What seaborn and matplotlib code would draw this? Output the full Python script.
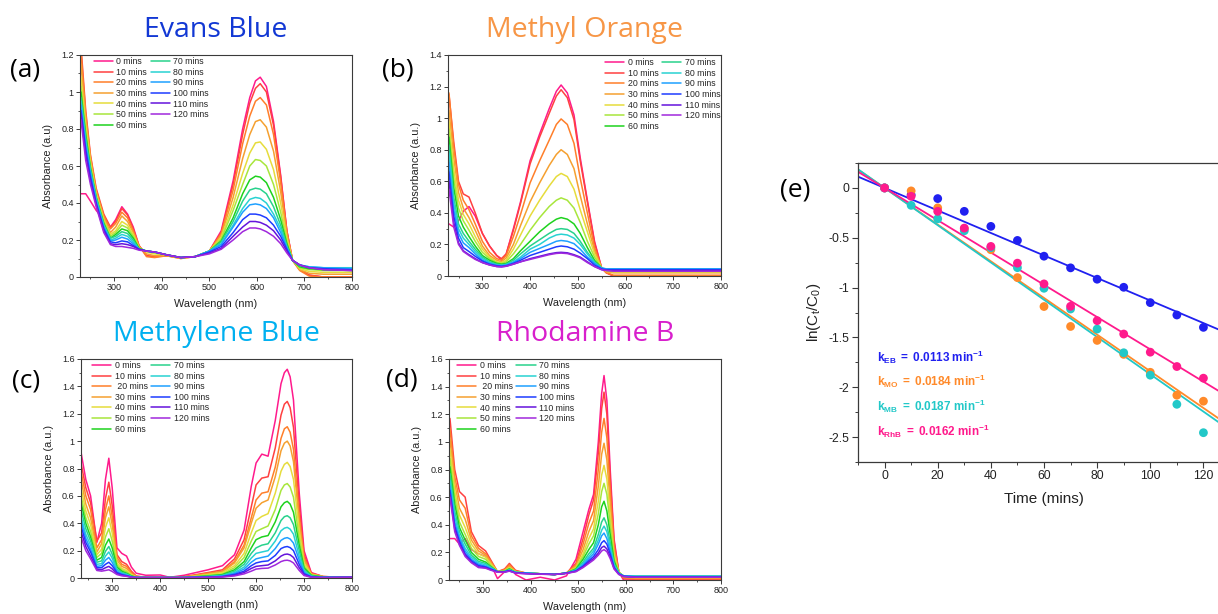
import numpy as np
import matplotlib
matplotlib.use("Agg")
import matplotlib.pyplot as plt
import seaborn as sns
from matplotlib.ticker import MultipleLocator, FuncFormatter

# ---------------- data ----------------
time_labels = ["0 mins", "10 mins", "20 mins", "30 mins", "40 mins", "50 mins", "60 mins",
               "70 mins", "80 mins", "90 mins", "100 mins", "110 mins", "120 mins"]
time_labels_cd = ["0 mins", "10 mins", " 20 mins", "30 mins", "40 mins", "50 mins", "60 mins",
                  "70 mins", "80 mins", "90 mins", "100 mins", "110 mins", "120 mins"]
line_colors = ["#ff1a8c", "#ff4040", "#ff7f2a", "#f5a030", "#e6dc3c", "#a8e63c", "#1ed21e",
               "#28d28c", "#28d2d2", "#1ea0ff", "#1e3cff", "#6414dc", "#a028dc"]

# Evans Blue
eb_wl = [230, 240, 250, 262, 278, 292, 303, 316, 328, 340, 352, 368, 385, 410, 440, 470,
         500, 525, 550, 570, 585, 597, 607, 620, 635, 650, 663, 675, 690, 710, 740, 800]
eb_abs = [
    [0.45, 0.45, 0.41, 0.36, 0.31, 0.27, 0.31, 0.38, 0.34, 0.27, 0.17, 0.115, 0.11, 0.115, 0.105, 0.11, 0.14, 0.25, 0.52, 0.8, 0.97, 1.06, 1.08, 1.03, 0.84, 0.55, 0.25, 0.09, 0.04, 0.01, 0.0, 0.0],
    [1.25, 0.9, 0.66, 0.48, 0.34, 0.27, 0.3, 0.37, 0.335, 0.26, 0.17, 0.115, 0.11, 0.115, 0.105, 0.11, 0.14, 0.24, 0.5, 0.77, 0.94, 1.02, 1.045, 1.0, 0.82, 0.54, 0.25, 0.09, 0.04, 0.01, 0.0, 0.0],
    [1.22, 0.88, 0.65, 0.47, 0.33, 0.26, 0.29, 0.35, 0.32, 0.25, 0.17, 0.11, 0.105, 0.115, 0.1, 0.11, 0.14, 0.235, 0.47, 0.72, 0.87, 0.95, 0.97, 0.93, 0.77, 0.51, 0.24, 0.09, 0.035, 0.005, 0.0, 0.0],
    [1.15, 0.86, 0.64, 0.46, 0.32, 0.24, 0.27, 0.33, 0.3, 0.24, 0.165, 0.125, 0.115, 0.115, 0.1, 0.11, 0.14, 0.225, 0.43, 0.64, 0.77, 0.84, 0.85, 0.81, 0.68, 0.46, 0.23, 0.09, 0.04, 0.02, 0.015, 0.015],
    [1.08, 0.82, 0.62, 0.45, 0.31, 0.23, 0.25, 0.3, 0.28, 0.23, 0.16, 0.135, 0.125, 0.12, 0.105, 0.11, 0.14, 0.215, 0.39, 0.56, 0.67, 0.725, 0.73, 0.69, 0.58, 0.4, 0.21, 0.09, 0.045, 0.03, 0.025, 0.025],
    [1.03, 0.79, 0.6, 0.44, 0.3, 0.22, 0.24, 0.28, 0.265, 0.22, 0.155, 0.14, 0.13, 0.12, 0.105, 0.11, 0.14, 0.205, 0.36, 0.5, 0.6, 0.635, 0.63, 0.6, 0.5, 0.35, 0.19, 0.09, 0.05, 0.04, 0.035, 0.035],
    [1.0, 0.77, 0.59, 0.43, 0.29, 0.21, 0.23, 0.26, 0.25, 0.21, 0.155, 0.14, 0.135, 0.12, 0.105, 0.11, 0.14, 0.195, 0.32, 0.45, 0.525, 0.545, 0.54, 0.51, 0.43, 0.31, 0.18, 0.09, 0.055, 0.045, 0.04, 0.04],
    [0.97, 0.75, 0.58, 0.43, 0.28, 0.21, 0.22, 0.245, 0.235, 0.2, 0.15, 0.14, 0.135, 0.12, 0.105, 0.11, 0.14, 0.19, 0.3, 0.41, 0.47, 0.48, 0.475, 0.45, 0.38, 0.28, 0.17, 0.09, 0.06, 0.05, 0.05, 0.05],
    [0.95, 0.73, 0.57, 0.42, 0.28, 0.2, 0.21, 0.23, 0.22, 0.19, 0.15, 0.14, 0.135, 0.12, 0.105, 0.11, 0.14, 0.18, 0.28, 0.37, 0.42, 0.43, 0.425, 0.4, 0.34, 0.26, 0.16, 0.09, 0.065, 0.055, 0.05, 0.05],
    [0.93, 0.71, 0.56, 0.41, 0.27, 0.195, 0.2, 0.215, 0.205, 0.18, 0.15, 0.14, 0.135, 0.12, 0.105, 0.11, 0.14, 0.175, 0.27, 0.35, 0.39, 0.395, 0.39, 0.37, 0.32, 0.24, 0.16, 0.09, 0.065, 0.055, 0.05, 0.045],
    [0.9, 0.69, 0.54, 0.4, 0.26, 0.19, 0.185, 0.195, 0.19, 0.17, 0.15, 0.14, 0.135, 0.12, 0.105, 0.11, 0.135, 0.165, 0.24, 0.31, 0.34, 0.34, 0.335, 0.32, 0.28, 0.22, 0.15, 0.09, 0.065, 0.05, 0.045, 0.04],
    [0.88, 0.66, 0.52, 0.39, 0.25, 0.18, 0.175, 0.18, 0.175, 0.165, 0.15, 0.14, 0.135, 0.12, 0.105, 0.11, 0.13, 0.155, 0.22, 0.27, 0.3, 0.3, 0.295, 0.28, 0.25, 0.2, 0.14, 0.09, 0.065, 0.05, 0.04, 0.035],
    [0.85, 0.63, 0.5, 0.38, 0.24, 0.175, 0.165, 0.165, 0.16, 0.155, 0.145, 0.14, 0.135, 0.12, 0.105, 0.11, 0.125, 0.15, 0.2, 0.245, 0.265, 0.265, 0.26, 0.245, 0.22, 0.18, 0.13, 0.09, 0.065, 0.05, 0.04, 0.035],
]

# Methyl Orange
mo_wl = [230, 240, 250, 260, 272, 285, 300, 315, 330, 340, 350, 365, 380, 400, 420, 440, 455,
         465, 478, 492, 505, 520, 535, 550, 560, 575, 600, 700, 800]
mo_abs = [
    [0.33, 0.31, 0.35, 0.41, 0.44, 0.38, 0.27, 0.19, 0.13, 0.1, 0.14, 0.3, 0.47, 0.73, 0.9, 1.06, 1.17, 1.21, 1.16, 1.02, 0.75, 0.48, 0.22, 0.05, 0.02, 0.0, 0.0, 0.0, 0.0],
    [1.15, 0.85, 0.6, 0.52, 0.5, 0.4, 0.27, 0.19, 0.13, 0.11, 0.14, 0.29, 0.46, 0.71, 0.88, 1.03, 1.14, 1.18, 1.13, 0.99, 0.73, 0.47, 0.21, 0.05, 0.02, 0.0, 0.0, 0.0, 0.0],
    [1.16, 0.82, 0.58, 0.48, 0.42, 0.33, 0.22, 0.15, 0.11, 0.1, 0.13, 0.25, 0.39, 0.59, 0.73, 0.86, 0.96, 0.995, 0.96, 0.84, 0.62, 0.4, 0.18, 0.05, 0.02, 0.005, 0.005, 0.005, 0.005],
    [1.05, 0.75, 0.53, 0.43, 0.37, 0.29, 0.19, 0.13, 0.1, 0.09, 0.115, 0.2, 0.32, 0.47, 0.59, 0.7, 0.77, 0.8, 0.77, 0.68, 0.51, 0.33, 0.16, 0.05, 0.025, 0.02, 0.02, 0.02, 0.02],
    [0.98, 0.68, 0.48, 0.39, 0.33, 0.25, 0.17, 0.12, 0.09, 0.085, 0.1, 0.17, 0.26, 0.38, 0.48, 0.57, 0.63, 0.65, 0.63, 0.55, 0.42, 0.28, 0.14, 0.05, 0.03, 0.025, 0.025, 0.025, 0.025],
    [0.93, 0.62, 0.43, 0.35, 0.29, 0.22, 0.15, 0.11, 0.085, 0.08, 0.09, 0.14, 0.2, 0.29, 0.37, 0.44, 0.48, 0.495, 0.48, 0.43, 0.34, 0.22, 0.12, 0.05, 0.035, 0.03, 0.03, 0.03, 0.03],
    [0.88, 0.56, 0.38, 0.31, 0.25, 0.19, 0.13, 0.1, 0.08, 0.075, 0.08, 0.11, 0.16, 0.22, 0.28, 0.33, 0.36, 0.37, 0.36, 0.33, 0.27, 0.18, 0.1, 0.05, 0.04, 0.035, 0.035, 0.035, 0.035],
    [0.83, 0.5, 0.33, 0.27, 0.22, 0.17, 0.12, 0.09, 0.075, 0.07, 0.075, 0.1, 0.14, 0.19, 0.23, 0.27, 0.295, 0.3, 0.295, 0.27, 0.22, 0.15, 0.09, 0.05, 0.04, 0.04, 0.04, 0.04, 0.04],
    [0.78, 0.46, 0.3, 0.24, 0.2, 0.155, 0.11, 0.085, 0.07, 0.068, 0.072, 0.09, 0.12, 0.17, 0.2, 0.24, 0.26, 0.265, 0.26, 0.24, 0.2, 0.14, 0.085, 0.05, 0.045, 0.045, 0.045, 0.045, 0.045],
    [0.72, 0.42, 0.27, 0.21, 0.18, 0.14, 0.1, 0.08, 0.068, 0.065, 0.07, 0.085, 0.11, 0.15, 0.175, 0.2, 0.22, 0.225, 0.22, 0.205, 0.17, 0.12, 0.08, 0.05, 0.045, 0.045, 0.045, 0.045, 0.045],
    [0.66, 0.38, 0.24, 0.18, 0.155, 0.125, 0.095, 0.075, 0.065, 0.062, 0.065, 0.08, 0.1, 0.13, 0.15, 0.17, 0.185, 0.19, 0.185, 0.17, 0.145, 0.11, 0.07, 0.045, 0.04, 0.04, 0.04, 0.04, 0.04],
    [0.6, 0.34, 0.21, 0.16, 0.135, 0.11, 0.085, 0.07, 0.06, 0.058, 0.062, 0.075, 0.09, 0.11, 0.125, 0.14, 0.148, 0.15, 0.147, 0.135, 0.12, 0.09, 0.06, 0.04, 0.035, 0.035, 0.035, 0.035, 0.035],
    [0.55, 0.31, 0.2, 0.155, 0.13, 0.105, 0.085, 0.07, 0.06, 0.058, 0.062, 0.075, 0.09, 0.105, 0.12, 0.135, 0.143, 0.145, 0.142, 0.13, 0.115, 0.085, 0.06, 0.04, 0.035, 0.03, 0.03, 0.03, 0.03],
]

# Methylene Blue
mb_wl = [235, 245, 255, 268, 278, 286, 293, 300, 310, 320, 330, 340, 350, 370, 400, 420, 450,
         500, 530, 555, 575, 590, 600, 612, 625, 640, 652, 659, 665, 671, 678, 690, 700, 715, 740, 800]
mb_abs = [
    [0.92, 0.72, 0.6, 0.26, 0.4, 0.72, 0.875, 0.66, 0.22, 0.18, 0.16, 0.08, 0.035, 0.02, 0.022, 0.005, 0.02, 0.06, 0.09, 0.17, 0.35, 0.67, 0.84, 0.905, 0.89, 1.15, 1.42, 1.5, 1.525, 1.47, 1.3, 0.62, 0.2, 0.04, 0.01, 0.005],
    [0.84, 0.66, 0.55, 0.27, 0.33, 0.58, 0.7, 0.53, 0.17, 0.12, 0.1, 0.05, 0.015, 0.005, 0.005, 0.003, 0.01, 0.04, 0.06, 0.14, 0.28, 0.52, 0.68, 0.73, 0.74, 0.95, 1.19, 1.27, 1.29, 1.245, 1.1, 0.53, 0.17, 0.035, 0.01, 0.005],
    [0.78, 0.6, 0.5, 0.22, 0.28, 0.5, 0.6, 0.45, 0.15, 0.1, 0.085, 0.04, 0.012, 0.004, 0.004, 0.003, 0.008, 0.035, 0.05, 0.12, 0.24, 0.44, 0.57, 0.62, 0.63, 0.81, 1.02, 1.09, 1.105, 1.065, 0.94, 0.45, 0.15, 0.03, 0.01, 0.005],
    [0.72, 0.54, 0.44, 0.19, 0.25, 0.44, 0.52, 0.39, 0.13, 0.085, 0.07, 0.03, 0.01, 0.003, 0.003, 0.003, 0.006, 0.03, 0.045, 0.11, 0.22, 0.4, 0.51, 0.55, 0.57, 0.74, 0.93, 0.985, 1.0, 0.965, 0.85, 0.41, 0.13, 0.03, 0.01, 0.005],
    [0.66, 0.49, 0.39, 0.17, 0.21, 0.37, 0.44, 0.33, 0.11, 0.07, 0.055, 0.025, 0.008, 0.003, 0.003, 0.003, 0.005, 0.025, 0.04, 0.09, 0.18, 0.33, 0.42, 0.45, 0.47, 0.62, 0.78, 0.83, 0.845, 0.815, 0.72, 0.35, 0.11, 0.025, 0.01, 0.005],
    [0.6, 0.44, 0.34, 0.15, 0.18, 0.3, 0.36, 0.27, 0.095, 0.06, 0.045, 0.02, 0.006, 0.003, 0.003, 0.003, 0.004, 0.02, 0.03, 0.075, 0.15, 0.27, 0.34, 0.36, 0.38, 0.5, 0.64, 0.68, 0.69, 0.665, 0.59, 0.29, 0.09, 0.02, 0.008, 0.005],
    [0.55, 0.4, 0.3, 0.13, 0.15, 0.24, 0.285, 0.22, 0.08, 0.05, 0.035, 0.015, 0.005, 0.003, 0.003, 0.003, 0.004, 0.015, 0.025, 0.06, 0.12, 0.22, 0.28, 0.3, 0.31, 0.41, 0.52, 0.55, 0.56, 0.54, 0.48, 0.24, 0.075, 0.02, 0.008, 0.005],
    [0.5, 0.36, 0.27, 0.115, 0.125, 0.195, 0.23, 0.175, 0.065, 0.04, 0.03, 0.012, 0.004, 0.003, 0.003, 0.003, 0.003, 0.012, 0.02, 0.05, 0.1, 0.18, 0.22, 0.24, 0.25, 0.33, 0.42, 0.448, 0.455, 0.44, 0.39, 0.2, 0.06, 0.015, 0.006, 0.005],
    [0.45, 0.32, 0.24, 0.1, 0.105, 0.16, 0.19, 0.145, 0.055, 0.035, 0.025, 0.01, 0.004, 0.003, 0.003, 0.003, 0.003, 0.01, 0.017, 0.04, 0.08, 0.145, 0.18, 0.19, 0.2, 0.27, 0.345, 0.364, 0.37, 0.357, 0.32, 0.16, 0.05, 0.012, 0.005, 0.005],
    [0.42, 0.29, 0.21, 0.085, 0.09, 0.13, 0.15, 0.115, 0.045, 0.03, 0.02, 0.008, 0.003, 0.003, 0.003, 0.003, 0.003, 0.008, 0.014, 0.033, 0.065, 0.115, 0.14, 0.15, 0.16, 0.215, 0.275, 0.29, 0.295, 0.285, 0.255, 0.13, 0.04, 0.01, 0.005, 0.005],
    [0.38, 0.26, 0.19, 0.075, 0.075, 0.1, 0.115, 0.09, 0.04, 0.025, 0.017, 0.007, 0.003, 0.003, 0.003, 0.003, 0.003, 0.006, 0.011, 0.026, 0.05, 0.09, 0.11, 0.12, 0.125, 0.165, 0.215, 0.226, 0.23, 0.222, 0.2, 0.1, 0.032, 0.008, 0.004, 0.005],
    [0.34, 0.23, 0.16, 0.065, 0.06, 0.075, 0.085, 0.067, 0.032, 0.02, 0.014, 0.006, 0.003, 0.003, 0.003, 0.003, 0.003, 0.005, 0.009, 0.02, 0.04, 0.07, 0.085, 0.09, 0.095, 0.125, 0.16, 0.172, 0.175, 0.169, 0.15, 0.075, 0.025, 0.006, 0.003, 0.005],
    [0.3, 0.2, 0.14, 0.055, 0.05, 0.055, 0.06, 0.048, 0.025, 0.016, 0.012, 0.005, 0.003, 0.003, 0.003, 0.003, 0.003, 0.004, 0.007, 0.015, 0.03, 0.05, 0.065, 0.07, 0.072, 0.095, 0.12, 0.128, 0.13, 0.125, 0.11, 0.055, 0.018, 0.005, 0.003, 0.005],
]

# Rhodamine B
rhb_wl = [230, 240, 250, 262, 275, 290, 305, 315, 330, 345, 355, 368, 390, 420, 450, 475, 495,
          510, 522, 532, 542, 549, 554, 560, 567, 575, 585, 595, 620, 800]
rhb_abs = [
    [0.3, 0.3, 0.26, 0.3, 0.22, 0.19, 0.17, 0.12, 0.01, 0.06, 0.11, 0.04, 0.0, 0.02, 0.0, 0.03, 0.15, 0.35, 0.51, 0.62, 1.0, 1.35, 1.48, 1.3, 0.8, 0.3, 0.06, 0.0, 0.0, 0.0],
    [1.17, 0.8, 0.64, 0.6, 0.35, 0.25, 0.21, 0.15, 0.06, 0.08, 0.12, 0.07, 0.05, 0.045, 0.04, 0.05, 0.12, 0.3, 0.47, 0.58, 0.92, 1.24, 1.36, 1.2, 0.74, 0.28, 0.06, 0.01, 0.005, 0.005],
    [1.1, 0.75, 0.58, 0.52, 0.32, 0.23, 0.19, 0.14, 0.06, 0.075, 0.11, 0.065, 0.05, 0.045, 0.04, 0.05, 0.11, 0.26, 0.41, 0.5, 0.8, 1.07, 1.17, 1.03, 0.64, 0.24, 0.06, 0.015, 0.01, 0.01],
    [1.02, 0.7, 0.52, 0.44, 0.29, 0.21, 0.18, 0.13, 0.06, 0.07, 0.1, 0.06, 0.05, 0.045, 0.04, 0.05, 0.1, 0.22, 0.35, 0.43, 0.68, 0.91, 0.99, 0.87, 0.55, 0.21, 0.06, 0.02, 0.015, 0.015],
    [0.95, 0.65, 0.47, 0.38, 0.26, 0.19, 0.165, 0.12, 0.06, 0.068, 0.09, 0.06, 0.05, 0.045, 0.04, 0.05, 0.09, 0.19, 0.3, 0.37, 0.57, 0.76, 0.83, 0.73, 0.47, 0.18, 0.06, 0.025, 0.02, 0.02],
    [0.88, 0.6, 0.42, 0.33, 0.23, 0.17, 0.15, 0.11, 0.06, 0.065, 0.085, 0.058, 0.05, 0.045, 0.04, 0.05, 0.085, 0.17, 0.26, 0.32, 0.48, 0.64, 0.7, 0.62, 0.4, 0.16, 0.055, 0.03, 0.025, 0.025],
    [0.82, 0.55, 0.38, 0.29, 0.2, 0.15, 0.13, 0.1, 0.06, 0.062, 0.08, 0.055, 0.05, 0.045, 0.04, 0.05, 0.08, 0.15, 0.22, 0.27, 0.4, 0.53, 0.57, 0.5, 0.33, 0.14, 0.05, 0.03, 0.025, 0.025],
    [0.77, 0.5, 0.35, 0.26, 0.18, 0.135, 0.12, 0.095, 0.06, 0.06, 0.075, 0.055, 0.05, 0.045, 0.04, 0.05, 0.075, 0.13, 0.19, 0.23, 0.33, 0.42, 0.45, 0.4, 0.27, 0.12, 0.05, 0.03, 0.028, 0.028],
    [0.72, 0.46, 0.32, 0.23, 0.165, 0.125, 0.11, 0.09, 0.06, 0.06, 0.072, 0.055, 0.05, 0.045, 0.04, 0.05, 0.07, 0.12, 0.17, 0.21, 0.29, 0.36, 0.39, 0.35, 0.24, 0.11, 0.05, 0.03, 0.028, 0.028],
    [0.68, 0.42, 0.3, 0.21, 0.15, 0.115, 0.1, 0.085, 0.06, 0.06, 0.07, 0.055, 0.05, 0.045, 0.04, 0.05, 0.068, 0.11, 0.155, 0.19, 0.26, 0.32, 0.34, 0.3, 0.21, 0.1, 0.045, 0.03, 0.025, 0.025],
    [0.65, 0.39, 0.28, 0.19, 0.14, 0.105, 0.095, 0.08, 0.06, 0.06, 0.068, 0.052, 0.048, 0.043, 0.04, 0.05, 0.065, 0.1, 0.14, 0.17, 0.22, 0.27, 0.285, 0.26, 0.19, 0.09, 0.045, 0.028, 0.022, 0.022],
    [0.62, 0.37, 0.26, 0.18, 0.13, 0.095, 0.09, 0.075, 0.058, 0.058, 0.066, 0.05, 0.046, 0.042, 0.04, 0.048, 0.063, 0.095, 0.13, 0.155, 0.195, 0.235, 0.245, 0.225, 0.17, 0.085, 0.042, 0.025, 0.02, 0.02],
    [0.6, 0.35, 0.25, 0.17, 0.125, 0.09, 0.085, 0.072, 0.056, 0.056, 0.064, 0.05, 0.045, 0.042, 0.04, 0.048, 0.06, 0.09, 0.12, 0.145, 0.18, 0.21, 0.22, 0.205, 0.155, 0.08, 0.04, 0.025, 0.02, 0.02],
]

# Kinetics panel
time_min = [0, 10, 20, 30, 40, 50, 60, 70, 80, 90, 100, 110, 120]
ln_eb = [0, -0.07, -0.107, -0.235, -0.386, -0.527, -0.685, -0.802, -0.916, -0.997, -1.151, -1.275, -1.399]
ln_mo = [0, -0.03, -0.2, -0.41, -0.62, -0.9, -1.19, -1.39, -1.53, -1.67, -1.85, -2.08, -2.14]
ln_mb = [0, -0.175, -0.31, -0.43, -0.6, -0.8, -1.007, -1.215, -1.416, -1.654, -1.879, -2.171, -2.456]
ln_rhb = [0, -0.084, -0.235, -0.403, -0.587, -0.755, -0.963, -1.188, -1.332, -1.466, -1.648, -1.792, -1.909]
dye_keys = ["EB", "MO", "MB", "RhB"]
k_values = [0.0113, 0.0184, 0.0187, 0.0162]
dye_colors = ["#2020f0", "#ff8a2a", "#22c8c8", "#ff1a8c"]

titles = ["Evans Blue", "Methyl Orange", "Methylene Blue", "Rhodamine B"]
title_colors = ["#1238d4", "#f79646", "#00b0f0", "#d81fcc"]

for wl, rows in [(eb_wl, eb_abs), (mo_wl, mo_abs), (mb_wl, mb_abs), (rhb_wl, rhb_abs)]:
    assert all(len(r) == len(wl) for r in rows), [len(r) for r in rows]

# ---------------- style ----------------
sns.set_theme(style="ticks")
plt.rcParams["font.family"] = ["Liberation Sans", "DejaVu Sans"]
plt.rcParams["mathtext.fontset"] = "custom"
plt.rcParams["mathtext.rm"] = "Liberation Sans"
plt.rcParams["mathtext.it"] = "Liberation Sans:italic"
plt.rcParams["mathtext.bf"] = "Liberation Sans:bold"
plt.rcParams["mathtext.default"] = "regular"
plt.rcParams["axes.unicode_minus"] = False

W, H = 1218, 614
fig = plt.figure(figsize=(W / 100, H / 100), dpi=100)
fig.patch.set_facecolor("white")


def px(l, t, r, b):
    return [l / W, 1 - b / H, (r - l) / W, (b - t) / H]


fmt = FuncFormatter(lambda v, p: f"{v:g}")
SPINE = "#3a3a3a"


def style_axes(ax, ymajor, ysize):
    for s in ax.spines.values():
        s.set_color(SPINE)
        s.set_linewidth(0.8)
    ax.xaxis.set_major_locator(MultipleLocator(100))
    ax.xaxis.set_minor_locator(MultipleLocator(50))
    ax.yaxis.set_major_locator(MultipleLocator(ymajor))
    ax.yaxis.set_minor_locator(MultipleLocator(ymajor / 2))
    ax.xaxis.set_major_formatter(fmt)
    ax.yaxis.set_major_formatter(fmt)
    ax.tick_params(which="major", direction="out", length=3, width=0.7, color=SPINE,
                   labelsize=ysize, pad=1.5, labelcolor="#222222")
    ax.tick_params(which="minor", direction="out", length=1.7, width=0.6, color=SPINE)
    ax.tick_params(top=False, right=False, which="both")


def draw_spectra(rect, wl, rows, labels, xmin, ymax, ylab, leg_anchor, title, tcolor, panel, plabel_xy):
    ax = fig.add_axes(px(*rect))
    ax.set_facecolor("white")
    for vals, lab, col in zip(rows, labels, line_colors):
        sns.lineplot(x=wl, y=vals, color=col, lw=1.1, label=lab, ax=ax, sort=False, estimator=None)
    ax.set_xlim(xmin, 800)
    ax.set_ylim(0, ymax)
    style_axes(ax, 0.2, 6.5)
    ax.set_xlabel("Wavelength (nm)", fontsize=7.8, labelpad=5, color="#222222")
    ax.set_ylabel(ylab, fontsize=7.8, labelpad=6, color="#222222")
    ax.legend(loc="upper left", bbox_to_anchor=leg_anchor, ncol=2, frameon=False, fontsize=6.3,
              handlelength=2.2, handletextpad=0.4, columnspacing=0.4, labelspacing=0.18,
              borderpad=0, borderaxespad=0)
    cx = (rect[0] + rect[2]) / 2 / W
    fig.text(cx, 1 - (rect[1] - 18) / H, title, color=tcolor, fontsize=20.5, ha="center",
             va="baseline", family=["Open Sans", "DejaVu Sans"])
    fig.text(plabel_xy[0] / W, 1 - plabel_xy[1] / H, panel, fontsize=19, ha="left", va="center",
             family=["Open Sans", "DejaVu Sans"], color="black")
    return ax


draw_spectra((80, 55, 352, 277), eb_wl, eb_abs, time_labels, 228, 1.2, "Absorbance (a.u)",
             (0.05, 0.99), titles[0], title_colors[0], "(a)", (10, 70))
draw_spectra((448, 55, 721, 276), mo_wl, mo_abs, time_labels, 228, 1.4, "Absorbance (a.u.)",
             (0.575, 0.985), titles[1], title_colors[1], "(b)", (382, 70))
draw_spectra((81, 359, 352, 578), mb_wl, mb_abs, time_labels_cd, 235, 1.6, "Absorbance (a.u.)",
             (0.04, 0.99), titles[2], title_colors[2], "(c)", (12, 381))
draw_spectra((449, 359, 721, 580), rhb_wl, rhb_abs, time_labels_cd, 228, 1.6, "Absorbance (a.u.)",
             (0.03, 0.99), titles[3], title_colors[3], "(d)", (386, 380))

# ---------------- kinetics panel (e) ----------------
axe = fig.add_axes(px(858, 163, 1230, 462))
axe.set_facecolor("white")
axe.set_xlim(-10, 130)
axe.set_ylim(-2.75, 0.25)
t_line = np.array(axe.get_xlim())
for k, col in zip(k_values, dye_colors):
    sns.lineplot(x=t_line, y=-k * t_line, color=col, lw=1.3, ax=axe, zorder=2)
for vals, col in zip([ln_eb, ln_mo, ln_mb, ln_rhb], dye_colors):
    sns.scatterplot(x=time_min, y=vals, color=col, s=40, edgecolor="none", ax=axe, zorder=3)
axe.set_xlim(-10, 130)
axe.set_ylim(-2.75, 0.25)
for s in axe.spines.values():
    s.set_color(SPINE)
    s.set_linewidth(0.9)
axe.xaxis.set_major_locator(MultipleLocator(20))
axe.xaxis.set_minor_locator(MultipleLocator(10))
axe.yaxis.set_major_locator(MultipleLocator(0.5))
axe.yaxis.set_minor_locator(MultipleLocator(0.25))
axe.xaxis.set_major_formatter(fmt)
axe.yaxis.set_major_formatter(fmt)
axe.tick_params(which="major", direction="out", length=4, width=0.8, color=SPINE,
                labelsize=8.8, pad=2, labelcolor="#222222")
axe.tick_params(which="minor", direction="out", length=2.2, width=0.7, color=SPINE)
axe.set_xlabel("Time (mins)", fontsize=11, labelpad=7, color="#222222")
axe.set_ylabel(r"ln(C$_t$/C$_0$)", fontsize=11, labelpad=4, color="#222222")
text_y = [-1.70, -1.94, -2.19, -2.44]
for key, k, col, ty in zip(dye_keys, k_values, dye_colors, text_y):
    axe.text(-3, ty, r"$\mathbf{k_{" + key + r"}\ =\ " + f"{k:.4f}" + r"\ min^{-1}}$",
             color=col, fontsize=8.5, ha="left", va="center")
fig.text(780 / W, 1 - 190 / H, "(e)", fontsize=19, ha="left", va="center",
         family=["Open Sans", "DejaVu Sans"], color="black")

fig.savefig("out.png", dpi=100, facecolor="white")
